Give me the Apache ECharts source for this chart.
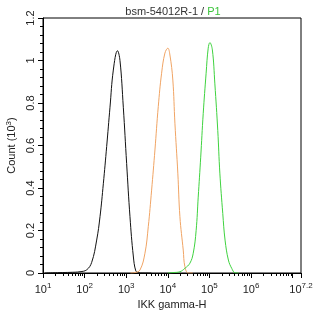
<!DOCTYPE html>
<html><head><meta charset="utf-8">
<script src="https://cdn.jsdelivr.net/npm/echarts@6/dist/echarts.min.js"></script>
<style>html,body{margin:0;padding:0;background:#fff}#c{width:314px;height:317px}</style>
</head><body><div id="c"></div>
<script>
// x values are log10(IKK gamma-H intensity), y values are counts (10^3)
const blackX = [1.05, 1.41, 1.65, 1.89, 2.05, 2.17, 2.29, 2.37, 2.45, 2.53, 2.61, 2.69, 2.79, 2.85, 2.93, 3.01, 3.09, 3.17, 3.23, 3.29, 3.40, 3.60];
const blackY = [0.000, 0.002, 0.003, 0.006, 0.015, 0.05, 0.155, 0.265, 0.42, 0.595, 0.78, 0.955, 1.046, 1.0, 0.78, 0.515, 0.265, 0.08, 0.01, 0.002, 0.0, 0.0];
const orangeX = [3.10, 3.21, 3.33, 3.45, 3.53, 3.61, 3.69, 3.77, 3.85, 3.93, 4.00, 4.05, 4.12, 4.17, 4.24, 4.29, 4.37, 4.41, 4.49, 4.60];
const orangeY = [0.0, 0.002, 0.014, 0.093, 0.218, 0.39, 0.579, 0.783, 0.94, 1.035, 1.058, 1.026, 0.908, 0.705, 0.47, 0.265, 0.108, 0.03, 0.0, 0.0];
const greenX = [4.00, 4.125, 4.29, 4.41, 4.53, 4.61, 4.68, 4.73, 4.79, 4.85, 4.92, 4.97, 5.01, 5.07, 5.13, 5.20, 5.25, 5.32, 5.375, 5.455, 5.535, 5.615, 5.70];
const greenY = [0.0, 0.002, 0.006, 0.022, 0.046, 0.093, 0.2, 0.357, 0.545, 0.75, 0.94, 1.058, 1.084, 1.05, 0.89, 0.67, 0.47, 0.28, 0.155, 0.061, 0.022, 0.001, 0.0];
const xLabelValues = [1, 2, 3, 4, 5, 6, 7.2];
const yTicks = [0, 0.2, 0.4, 0.6, 0.8, 1, 1.2];

const zip = (xs, ys) => xs.map((x, i) => [x, ys[i]]);
const minorX = [];
for (let n = 1; n <= 7; n++) for (let k = 2; k <= 9; k++) {
  const v = n + Math.log10(k);
  if (v < 7.2) minorX.push(v);
}
const font = 'Liberation Sans, Arial, sans-serif';
const chart = echarts.init(document.getElementById('c'));
chart.setOption({
  animation: false,
  backgroundColor: '#fff',
  title: {
    text: '{a|bsm-54012R-1 / }{b|P1}',
    left: 168, textAlign: 'center', top: 1,
    textStyle: { fontWeight: 'normal', rich: {
      a: { fontFamily: font, fontSize: 11, fontWeight: 'normal', color: '#333' },
      b: { fontFamily: font, fontSize: 11, fontWeight: 'normal', color: '#3cc43c' }
    } }
  },
  grid: { left: 43, right: 13, top: 18, bottom: 44, containLabel: false, outerBoundsMode: 'none', show: true, borderColor: '#000', borderWidth: 1, backgroundColor: 'transparent' },
  xAxis: [{
    type: 'value', min: 1, max: 7.2, interval: 1,
    name: 'IKK gamma-H', nameLocation: 'middle', nameGap: 26,
    nameTextStyle: { fontFamily: font, fontSize: 11, color: '#222' },
    axisLine: { lineStyle: { color: '#000', width: 1 } },
    axisTick: { length: 5, lineStyle: { color: '#000' } },
    splitLine: { show: false },
    axisLabel: {
      customValues: xLabelValues, margin: 9,
      formatter: v => '{b|10}{s|' + (Math.round(v * 10) / 10) + '}',
      rich: {
        b: { fontFamily: font, fontSize: 11, color: '#222', verticalAlign: 'bottom' },
        s: { fontFamily: font, fontSize: 8, color: '#222', verticalAlign: 'top', padding: [0, 0, 5, 0] }
      }
    }
  }, {
    type: 'value', min: 1, max: 7.2, position: 'bottom',
    axisLine: { show: false },
    axisLabel: { show: false },
    splitLine: { show: false },
    axisTick: { show: true, customValues: minorX, length: 3, lineStyle: { color: '#000' } }
  }],
  yAxis: {
    type: 'value', min: 0, max: 1.2, interval: 0.2,
    name: '{a|Count (10}{s|3}{a|)}', nameLocation: 'middle', nameGap: 25, nameRotate: 90,
    nameTextStyle: { rich: {
      a: { fontFamily: font, fontSize: 11, color: '#222' },
      s: { fontFamily: font, fontSize: 8, color: '#222', padding: [0, 0, 5, 0] }
    } },
    axisLine: { show: true, lineStyle: { color: '#000', width: 1 } },
    axisTick: { show: true, length: 5, lineStyle: { color: '#000' } },
    minorTick: { show: true, splitNumber: 5, length: 3, lineStyle: { color: '#000' } },
    splitLine: { show: false },
    axisLabel: { customValues: yTicks, rotate: 90, margin: 7, fontFamily: font, fontSize: 11, color: '#222' }
  },
  series: [
    { type: 'line', data: zip(blackX, blackY), smooth: 0.4, symbol: 'none', lineStyle: { color: '#111', width: 1 } },
    { type: 'line', data: zip(orangeX, orangeY), smooth: 0.4, symbol: 'none', lineStyle: { color: '#f0a464', width: 1 } },
    { type: 'line', data: zip(greenX, greenY), smooth: 0.4, symbol: 'none', lineStyle: { color: '#3fd23f', width: 1 } }
  ]
});
</script></body></html>
